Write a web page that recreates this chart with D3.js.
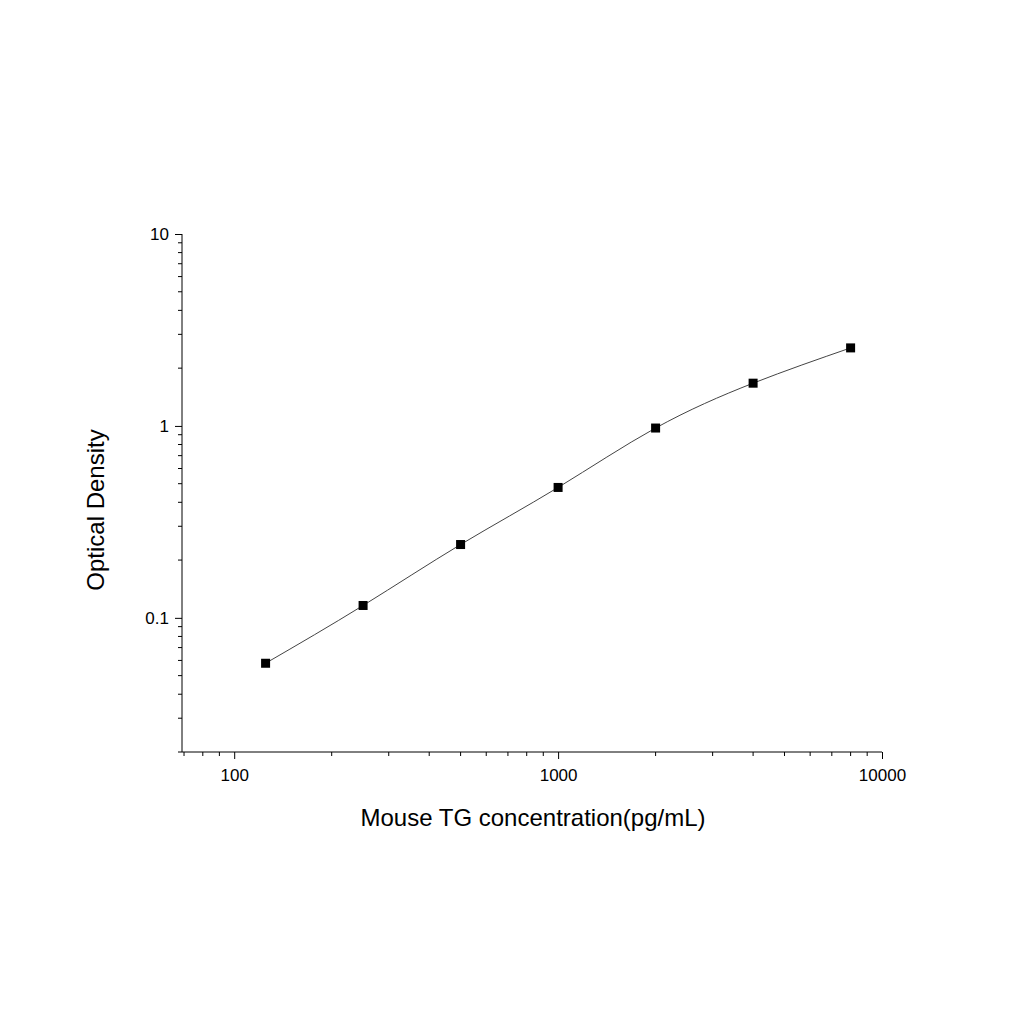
<!DOCTYPE html>
<html><head><meta charset="utf-8">
<script src="https://cdn.jsdelivr.net/npm/d3@7"></script>
<style>body{margin:0;background:#fff}text{font-family:"Liberation Sans",Arial,sans-serif}</style>
</head><body>
<svg id="chart" width="1024" height="1024"></svg>
<script>
// standard curve data
let conc = [125, 250, 500, 1000, 2000, 4000, 8000];
let od = [0.058, 0.116, 0.241, 0.478, 0.975, 1.67, 2.55];
let xTicks = [100, 1000, 10000];
let yTicks = [0.1, 1, 10];

let svg = d3.select('#chart');
let x = d3.scaleLog().domain([69, 10000]).range([182, 882]);
let y = d3.scaleLog().domain([0.02, 10]).range([752, 234]);

function minors(dom) {
    let out = [];
    for (let e = -3; e <= 5; e++)
        for (let k = 1; k < 10; k++) {
            let v = k * Math.pow(10, e);
            if (v >= dom[0] && v <= dom[1]) out.push(v);
        }
    return out;
}

// x axis
let gx = svg.append('g').attr('transform', 'translate(0,752)');
gx.call(d3.axisBottom(x).tickValues(xTicks).tickFormat(d3.format('d')).tickSize(7).tickPadding(10));
gx.selectAll('.xmin').data(minors(x.domain()).filter(v => !xTicks.includes(v))).enter()
    .append('line').attr('class', 'xmin').attr('x1', d => x(d)).attr('x2', d => x(d)).attr('y1', 0).attr('y2', 4).attr('stroke', '#000');
gx.select('.domain').attr('d', 'M182,0H882');
gx.selectAll('text').style('font-size', '17px');

// y axis
let gy = svg.append('g').attr('transform', 'translate(182,0)');
gy.call(d3.axisLeft(y).tickValues(yTicks).tickFormat(d => d).tickSize(7).tickPadding(6));
gy.selectAll('.ymin').data(minors(y.domain()).filter(v => !yTicks.includes(v))).enter()
    .append('line').attr('class', 'ymin').attr('x1', 0).attr('x2', -4).attr('y1', d => y(d)).attr('y2', d => y(d)).attr('stroke', '#000');
gy.select('.domain').attr('d', 'M0,234V752');
gy.selectAll('text').style('font-size', '17px');

// curve
let pts = conc.map((c, i) => [x(c), y(od[i])]);
svg.append('path').attr('d', d3.line().curve(d3.curveNatural)(pts))
    .attr('fill', 'none').attr('stroke', '#444').attr('stroke-width', 1);

svg.selectAll('.pt').data(conc).enter().append('rect')
    .attr('x', (d) => x(d) - 4.5).attr('y', (d, i) => y(od[i]) - 4.5)
    .attr('width', 9).attr('height', 9).attr('fill', '#000');

// labels
svg.append('text').attr('x', 533).attr('y', 826).attr('text-anchor', 'middle')
    .style('font-size', '24px').text('Mouse TG concentration(pg/mL)');
svg.append('text').attr('transform', 'translate(104,510) rotate(-90)').attr('text-anchor', 'middle')
    .style('font-size', '24px').text('Optical Density');
</script>
</body></html>
